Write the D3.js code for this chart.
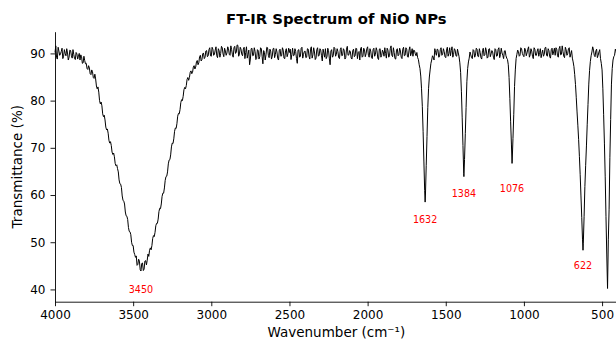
<!DOCTYPE html>
<html>
<head>
<meta charset="utf-8">
<script src="https://cdn.jsdelivr.net/npm/d3@7"></script>
<style>
  body { margin: 0; background: #fff; }
  svg { display: block; font-family: "DejaVu Sans", sans-serif; }
</style>
</head>
<body>
<svg width="616" height="341"></svg>
<script>
// transmittance (%) read every 10 cm-1, 4000 down to 400
var transmittance = [
  90.2, 89.1, 91.3, 89.6, 90.4, 88.9, 90.8, 89.5, 90.1, 89.2,   // 4000-3910
  90.6, 89.0, 89.8, 88.7, 89.9, 89.4, 88.6, 89.3, 88.0, 88.5,   // 3900-3810
  87.9, 86.6, 86.9, 85.5, 86.1, 84.7, 84.6, 82.5, 81.8, 79.3,   // 3800-3710
  78.9, 76.6, 75.9, 73.8, 73.1, 71.0, 70.5, 68.6, 68.1, 66.2,   // 3700-3610
  65.6, 63.2, 62.3, 59.8, 58.7, 56.4, 55.5, 53.1, 52.2, 50.0,   // 3600-3510
  49.3, 47.4, 47.1, 45.3, 46.0, 43.9, 45.6, 44.3, 46.1, 46.2,   // 3500-3410
  47.0, 48.8, 49.3, 51.4, 52.1, 54.0, 54.9, 57.2, 58.1, 60.4,   // 3400-3310
  61.5, 63.9, 64.9, 67.4, 68.5, 71.0, 71.9, 74.2, 75.1, 77.3,   // 3300-3210
  78.1, 80.2, 80.9, 82.8, 83.2, 84.9, 84.9, 86.3, 86.0, 87.4,   // 3200-3110
  87.1, 88.5, 88.0, 89.6, 88.7, 90.1, 89.2, 90.6, 89.5, 91.2,   // 3100-3010
  89.4, 90.9, 89.8, 91.4, 89.1, 90.6, 90.0, 91.2, 89.3, 90.5,   // 3000-2910
  90.1, 91.0, 89.6, 90.8, 89.2, 91.5, 90.3, 91.7, 89.9, 90.9,   // 2900-2810
  89.5, 91.3, 90.2, 89.0, 90.7, 88.8, 91.1, 89.6, 90.4, 88.9,   // 2800-2710
  90.6, 89.3, 91.0, 87.8, 90.2, 89.7, 91.2, 89.1, 90.5, 89.4,   // 2700-2610
  91.1, 89.8, 90.3, 88.6, 90.9, 89.5, 90.7, 88.9, 91.0, 89.9,   // 2600-2510
  90.2, 88.7, 91.1, 89.6, 90.4, 87.9, 90.8, 89.4, 91.3, 89.8,   // 2500-2410
  90.5, 89.2, 90.9, 88.8, 91.4, 89.7, 90.3, 89.0, 91.2, 89.6,   // 2400-2310
  90.7, 88.4, 90.1, 91.0, 89.3, 90.6, 87.6, 90.8, 89.5, 91.1,   // 2300-2210
  89.8, 90.4, 88.9, 91.2, 89.6, 90.7, 89.1, 91.5, 89.7, 90.3,   // 2200-2110
  88.8, 90.9, 89.5, 91.0, 90.2, 88.6, 91.3, 89.4, 90.8, 89.9,   // 2100-2010
  91.4, 89.2, 90.5, 88.9, 91.1, 89.8, 90.6, 88.7, 91.0, 89.6,   // 2000-1910
  90.3, 91.2, 89.0, 90.7, 89.5, 91.6, 89.3, 90.2, 88.8, 91.0,   // 1900-1810
  89.7, 90.5, 88.9, 91.3, 89.6, 90.9, 89.2, 91.4, 90.1, 89.4,   // 1800-1710
  90.6, 89.5, 89.1, 87.6, 85.2, 78.8, 67.2, 60.0, 72.4, 82.6,   // 1700-1610
  86.5, 88.6, 89.2, 91.0, 89.6, 90.8, 89.3, 91.2, 89.8, 90.4,   // 1600-1510
  89.1, 91.3, 90.0, 89.5, 91.4, 89.8, 90.7, 89.4, 90.1, 88.0,   // 1500-1410
  82.0, 70.5, 67.5, 78.5, 86.8, 89.0, 89.7, 88.9, 90.6, 89.6,   // 1400-1310
  90.9, 89.3, 90.2, 88.8, 91.1, 89.7, 90.5, 89.2, 91.0, 89.9,   // 1300-1210
  90.3, 88.7, 90.8, 89.5, 91.2, 89.8, 90.1, 88.9, 90.6, 89.0,   // 1200-1110
  87.6, 80.5, 70.8, 72.0, 83.0, 88.9, 90.7, 89.4, 91.2, 90.0,   // 1100-1010
  89.3, 90.8, 90.1, 91.4, 89.7, 90.5, 88.9, 90.9, 89.6, 91.0,   // 1000-910
  90.2, 89.1, 90.7, 89.8, 91.3, 89.4, 90.6, 89.0, 91.1, 90.3,   // 900-810
  89.6, 90.9, 89.2, 91.5, 89.8, 90.4, 89.1, 90.8, 89.9, 91.2,   // 800-710
  89.9, 89.0, 87.2, 83.4, 77.6, 71.8, 64.3, 55.2, 49.8, 61.8,   // 700-610
  70.4, 79.2, 86.4, 89.5, 91.4, 89.6, 90.5, 89.1, 90.3, 88.9,   // 600-510
  86.5, 77.0, 64.0, 47.5, 50.5, 68.0, 83.5, 88.6, 89.6, 90.4,   // 500-410
  89.8                                                          // 400
];

// in-between readings, 3995 down to 405
var transmittanceHalf = [
  91.6, 88.8, 90.5, 89.9, 91.1, 89.4, 90.0, 91.0, 88.6, 90.7,   // 3995-3905
  89.5, 90.8, 88.9, 90.2, 88.8, 90.0, 89.7, 87.9, 89.4, 87.8,   // 3895-3805
  86.8, 87.4, 85.7, 86.5, 84.9, 85.6, 83.1, 82.9, 80.0, 79.7,   // 3795-3705
  77.2, 76.9, 74.4, 74.0, 71.6, 71.3, 69.1, 68.9, 66.7, 66.4,   // 3695-3605
  64.9, 62.4, 61.6, 58.9, 58.1, 55.6, 54.8, 52.3, 51.6, 49.3,   // 3595-3505
  47.9, 46.8, 45.1, 46.4, 44.2, 45.5, 44.0, 46.0, 45.2, 47.5,   // 3495-3405
  48.3, 48.4, 50.8, 51.2, 53.5, 54.0, 56.5, 57.1, 59.7, 60.4,   // 3395-3305
  63.1, 64.0, 66.6, 67.5, 70.2, 70.9, 73.5, 74.1, 76.7, 77.2,   // 3295-3205
  79.6, 80.0, 82.3, 82.5, 84.5, 84.3, 86.0, 85.7, 87.1, 86.7,   // 3195-3105
  88.2, 87.6, 89.3, 88.4, 89.9, 88.9, 90.5, 89.3, 90.8, 89.5,   // 3095-3005
  91.3, 89.6, 90.7, 89.5, 91.0, 89.2, 91.5, 89.9, 91.1, 89.6,   // 2995-2905
  91.4, 89.8, 91.6, 89.7, 91.2, 90.0, 91.8, 89.4, 91.3, 89.8,   // 2895-2805
  90.9, 88.9, 91.4, 89.8, 87.6, 91.0, 89.5, 91.2, 88.7, 90.8,   // 2795-2705
  88.8, 91.2, 89.4, 90.6, 88.6, 91.3, 89.6, 90.9, 88.8, 91.0,   // 2695-2605
  89.1, 91.0, 88.9, 90.7, 89.4, 91.2, 89.0, 90.6, 89.3, 91.1,   // 2595-2505
  90.9, 89.8, 89.5, 91.0, 88.9, 90.7, 89.2, 91.1, 89.0, 90.4,   // 2495-2405
  89.1, 91.0, 89.4, 90.9, 89.0, 91.2, 88.7, 90.8, 89.4, 91.0,   // 2395-2305
  89.5, 90.9, 89.2, 88.9, 91.1, 89.0, 90.5, 89.2, 91.3, 89.4,   // 2295-2205
  91.0, 89.1, 90.8, 89.5, 91.0, 88.8, 90.9, 89.6, 90.6, 89.0,   // 2195-2105
  90.6, 89.3, 91.1, 88.9, 90.4, 91.0, 89.2, 91.1, 89.3, 91.0,   // 2095-2005
  89.6, 91.0, 89.1, 90.8, 89.4, 91.2, 89.0, 90.9, 89.2, 90.7,   // 1995-1905
  89.4, 90.0, 91.1, 89.2, 91.0, 89.6, 91.2, 88.9, 90.7, 89.5,   // 1895-1805
  91.1, 89.2, 90.9, 89.5, 91.2, 89.3, 90.7, 89.5, 91.0, 90.7,   // 1795-1705
  89.9, 90.2, 88.7, 86.8, 82.5, 73.5, 61.0, 66.3, 78.5, 85.0,   // 1695-1605
  87.9, 89.5, 88.6, 90.2, 90.9, 89.2, 90.8, 89.6, 91.0, 89.3,   // 1595-1505
  90.7, 89.4, 91.2, 90.6, 89.2, 91.0, 89.5, 90.9, 89.3, 86.0,   // 1495-1405
  76.5, 64.5, 73.0, 84.0, 88.2, 90.3, 89.1, 90.8, 89.2, 91.1,   // 1395-1305
  89.4, 91.0, 89.1, 90.6, 89.5, 91.2, 89.0, 90.9, 89.3, 90.6,   // 1295-1205
  89.2, 91.0, 89.4, 90.9, 89.1, 91.1, 89.6, 90.5, 89.5, 88.7,   // 1195-1105
  84.9, 75.5, 67.2, 77.0, 86.5, 89.8, 90.4, 89.6, 91.0, 89.6,   // 1095-1005
  91.1, 89.5, 90.9, 89.2, 91.0, 89.4, 91.2, 89.6, 90.5, 89.4,   // 995-905
  91.0, 90.0, 89.4, 91.2, 89.6, 91.0, 89.3, 90.8, 89.7, 91.1,   // 895-805
  91.2, 89.5, 91.0, 89.7, 91.6, 89.4, 91.3, 89.6, 91.0, 89.2,   // 795-705
  90.6, 88.2, 85.5, 80.6, 74.8, 68.2, 59.8, 50.5, 55.5, 66.3,   // 695-605
  75.0, 83.5, 88.3, 90.3, 90.7, 89.3, 90.9, 89.6, 90.8, 87.9,   // 595-505
  82.5, 71.0, 55.5, 40.2, 57.0, 76.0, 86.8, 89.3, 90.9, 89.5    // 495-405
];

var wavenumbers = d3.range(4000, 399, -10);
var wavenumbersHalf = d3.range(3995, 400, -10);

// band minima that fall between samples
var minimaWn = [1632, 1384, 1076, 622];
var minimaT  = [58.5, 63.9, 66.7, 48.3];

// red peak labels
var peakLabels = ["3450", "1632", "1384", "1076", "622"];
var peakLabelWn = [3450, 1632, 1384, 1076, 622];
var peakLabelT  = [40.0, 54.7, 60.3, 61.4, 45.0];

var xTicks = [4000, 3500, 3000, 2500, 2000, 1500, 1000, 500];
var yTicks = [40, 50, 60, 70, 80, 90];

function buildSpectrum() {
    var pts = [];
    for (var i = 0; i < wavenumbers.length; i++) {
        pts.push({ wn: wavenumbers[i], t: transmittance[i] });
    }
    for (var k = 0; k < wavenumbersHalf.length; k++) {
        pts.push({ wn: wavenumbersHalf[k], t: transmittanceHalf[k] });
    }
    for (var j = 0; j < minimaWn.length; j++) {
        pts.push({ wn: minimaWn[j], t: minimaT[j] });
    }
    pts.sort(function(a, b) { return b.wn - a.wn; });
    return pts;
}

function drawSpectrum(data) {
    var svg = d3.select("svg");
    var left = 55, right = 617.7, top = 31.7, bottom = 301.7;

    var x = d3.scaleLinear().domain([4000, 400]).range([left, right]);
    var y = d3.scaleLinear().domain([37.4, 94.6]).range([bottom, top]);

    svg.append("g")
        .attr("transform", "translate(0," + bottom + ")")
        .call(d3.axisBottom(x).tickValues(xTicks).tickFormat(d3.format("d"))
            .tickSize(4.5).tickPadding(4).tickSizeOuter(0));
    svg.append("g")
        .attr("transform", "translate(" + left + ",0)")
        .call(d3.axisLeft(y).tickValues(yTicks).tickFormat(d3.format("d"))
            .tickSize(4.5).tickPadding(5).tickSizeOuter(0));

    svg.selectAll(".tick text")
        .attr("font-size", 12)
        .attr("font-family", "DejaVu Sans")
        .attr("fill", "#000");
    svg.selectAll(".domain, .tick line").attr("stroke", "#000").attr("stroke-width", 0.9);

    var line = d3.line()
        .x(function(d) { return x(d.wn); })
        .y(function(d) { return y(d.t); });

    svg.append("path")
        .datum(data)
        .attr("fill", "none")
        .attr("stroke", "#000")
        .attr("stroke-width", 1)
        .attr("stroke-linejoin", "round")
        .attr("d", line);

    svg.selectAll(".peak-label")
        .data(peakLabels)
        .enter().append("text")
        .attr("class", "peak-label")
        .attr("x", function(d, i) { return x(peakLabelWn[i]); })
        .attr("y", function(d, i) { return y(peakLabelT[i]); })
        .attr("dy", "0.35em")
        .attr("text-anchor", "middle")
        .attr("font-size", 9.6)
        .attr("fill", "red")
        .text(function(d) { return d; });

    svg.append("text")
        .attr("x", (left + right) / 2)
        .attr("y", 24)
        .attr("text-anchor", "middle")
        .attr("font-size", 14.8)
        .attr("font-weight", "bold")
        .text("FT-IR Spectrum of NiO NPs");

    svg.append("text")
        .attr("x", (left + right) / 2)
        .attr("y", 337)
        .attr("text-anchor", "middle")
        .attr("font-size", 13.5)
        .text("Wavenumber (cm\u207B\u00B9)");

    svg.append("text")
        .attr("transform", "translate(22," + (top + bottom) / 2 + ") rotate(-90)")
        .attr("text-anchor", "middle")
        .attr("font-size", 13.5)
        .text("Transmittance (%)");
}

drawSpectrum(buildSpectrum());
</script>
</body>
</html>
